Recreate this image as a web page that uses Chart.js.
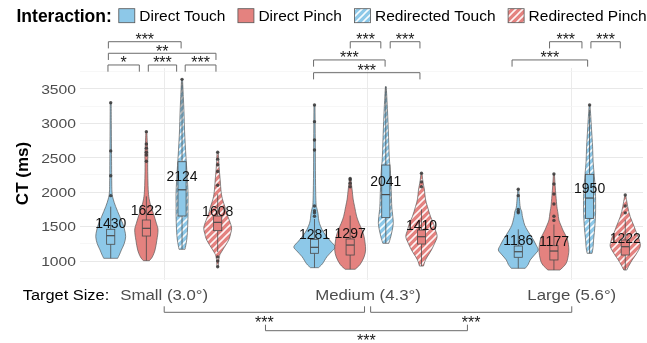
<!DOCTYPE html>
<html>
<head>
<meta charset="utf-8">
<script src="https://cdn.jsdelivr.net/npm/chart.js@4.4.1/dist/chart.umd.min.js"></script>
<style>
  html, body { margin: 0; padding: 0; background: #fff; }
  #wrap { width: 647px; height: 343px; }
</style>
</head>
<body>
<div id="wrap"><canvas id="ctChart" width="647" height="343"></canvas></div>
<script>
// --- data ---
const targetSizes = ['Small (3.0°)', 'Medium (4.3°)', 'Large (5.6°)'];
const interactions = ['Direct Touch', 'Direct Pinch', 'Redirected Touch', 'Redirected Pinch'];

// one row per target size, one column per interaction
const meanCT = [[1430, 1622, 2124, 1608], [1281, 1297, 2041, 1410], [1186, 1177, 1950, 1222]];
const q1CT = [[1243, 1363, 1654, 1441], [1112, 1087, 1630, 1247], [1054, 1015, 1620, 1087]];
const medianCT = [[1368, 1475, 2035, 1562], [1199, 1232, 1965, 1353], [1135, 1145, 1915, 1208]];
const q3CT = [[1461, 1596, 2443, 1654], [1315, 1320, 2395, 1450], [1218, 1223, 2260, 1305]];
const whiskerLowCT = [[1039, 1005, 1170, 1130], [903, 880, 1257, 927], [894, 869, 1112, 869]];
const whiskerHighCT = [[1790, 1940, 3600, 1970], [1610, 1660, 3534, 1750], [1460, 1530, 3200, 1600]];
const outlierCT = [
  [[1950, 2240, 2600, 3300], [2450, 2540, 2580, 2640, 2700, 2880], [3640], [917, 1000, 1060, 2100, 2300, 2400, 2480, 2580]],
  [[1650, 1700, 1730, 1800, 2613, 2759, 3025, 3267], [2080, 2130, 2180, 2200], [], [2080, 2150, 2275]],
  [[1700, 1720, 1750, 1950, 2042], [1590, 1650, 1828, 1974, 2119, 2264], [3267], [1700, 1800, 1959]]
];

// violin outlines: CT levels and the (relative) density at each level
const violinCT = [
  [[1039, 1100, 1160, 1250, 1353, 1450, 1548, 1650, 1790, 1900, 2000, 2200, 2600, 3000, 3300],
   [1005, 1060, 1160, 1300, 1450, 1550, 1693, 1800, 1887, 2000, 2200, 2400, 2550, 2700, 2880],
   [1170, 1305, 1450, 1650, 1790, 2000, 2275, 2500, 2700, 2904, 3150, 3388, 3640],
   [917, 1000, 1080, 1112, 1160, 1305, 1400, 1475, 1560, 1693, 1800, 1887, 2000, 2177, 2350, 2580]],
  [[903, 960, 1063, 1150, 1208, 1290, 1378, 1460, 1548, 1620, 1693, 1760, 1850, 2200, 2700, 3267],
   [880, 950, 1060, 1160, 1260, 1353, 1450, 1548, 1650, 1790, 1900, 2032, 2200],
   [1257, 1353, 1450, 1548, 1650, 1790, 2000, 2275, 2500, 2700, 2904, 3150, 3388, 3534],
   [927, 1015, 1100, 1160, 1250, 1353, 1450, 1548, 1650, 1790, 1900, 2032, 2150, 2275]],
  [[894, 950, 1015, 1100, 1160, 1230, 1305, 1380, 1450, 1520, 1596, 1660, 1717, 1780, 1900, 2042],
   [869, 940, 1015, 1160, 1305, 1380, 1450, 1520, 1596, 1700, 1790, 1950, 2100, 2264],
   [1112, 1200, 1305, 1450, 1548, 1700, 1935, 2100, 2275, 2450, 2661, 2904, 3100, 3267],
   [869, 940, 1015, 1100, 1208, 1280, 1353, 1420, 1499, 1570, 1644, 1720, 1790, 1870, 1950]]
];
const violinDensity = [
  [[7, 9, 10.7, 13.5, 15, 14, 12, 9, 5, 2.5, 1.3, 1, 0.8, 0.6, 0.5],
   [3, 6, 8.7, 10.5, 11.7, 10, 7, 4.5, 3, 2, 1.5, 1.3, 1.5, 1, 0.5],
   [3, 4.7, 5.5, 6, 6, 6, 5, 4, 3.2, 2.5, 2, 1.3, 0.5],
   [0.8, 1, 2, 3, 5, 11, 13, 14, 12.5, 9, 7, 5, 3.5, 2.5, 1.5, 0.6]],
  [[4, 8, 12.5, 18, 20.7, 16, 11, 7.5, 5, 4, 3.5, 2.5, 1.5, 1, 0.8, 0.5],
   [5, 10, 14, 15.5, 15, 14, 12, 9, 6.5, 4.5, 3, 2, 0.6],
   [3, 5, 6.5, 7.5, 7, 6, 5.5, 4.7, 3.5, 3, 2.5, 1.8, 1, 0.4],
   [2, 4, 7.5, 10, 13, 15.7, 14, 12, 9, 6, 4, 3, 1.5, 0.5]],
  [[7, 10, 12, 17, 20, 18, 15.3, 12, 9, 6.5, 5, 4, 3.5, 2, 1.2, 0.5],
   [6, 11, 13.5, 15, 13.7, 11.5, 9, 7, 5, 4, 3, 2, 1.2, 0.5],
   [2.5, 3.5, 4, 5, 5.5, 6, 6, 5.5, 4.5, 3.5, 3, 2, 1.2, 0.4],
   [1.5, 4, 7, 11, 15, 14.5, 13, 11, 9, 7, 5, 3.5, 2.5, 1.5, 0.5]]
];

// significance brackets over the violins (x in axis units, y in CT ms)
const topBrackets = [
  { x1: 0.724, x2: 0.878, y: 3849, label: '*' },
  { x1: 0.922, x2: 1.061, y: 3849, label: '***' },
  { x1: 1.103, x2: 1.254, y: 3849, label: '***' },
  { x1: 0.726, x2: 1.254, y: 4019, label: '**' },
  { x1: 0.726, x2: 1.083, y: 4187, label: '***' },
  { x1: 1.913, x2: 2.063, y: 4187, label: '***' },
  { x1: 2.109, x2: 2.255, y: 4187, label: '***' },
  { x1: 1.733, x2: 2.084, y: 3922, label: '***' },
  { x1: 1.733, x2: 2.255, y: 3737, label: '***' },
  { x1: 2.891, x2: 3.050, y: 4187, label: '***' },
  { x1: 3.094, x2: 3.238, y: 4187, label: '***' },
  { x1: 2.707, x2: 3.078, y: 3922, label: '***' }
];
// target size comparisons under the axis
const bottomBrackets = [
  { x1: 1.0, x2: 1.983, row: 0, label: '***' },
  { x1: 2.013, x2: 3.0, row: 0, label: '***' },
  { x1: 1.497, x2: 2.488, row: 1, label: '***' }
];
const yTicks = [750, 1000, 1250, 1500, 1750, 2000, 2250, 2500, 2750, 3000, 3250, 3500, 3750];

// --- look ---
const TOUCH = '#8DC8E8';
const PINCH = '#E4827F';
const DODGE = [-0.2625, -0.0875, 0.0875, 0.2625];
const DENS_UNIT = 1 / 204.5;   // density -> x axis units
const BOX_HALF = 0.02;
const FONT = '"Liberation Sans", Arial, sans-serif';

const canvas = document.getElementById('ctChart');
const ctx0 = canvas.getContext('2d');

function makeHatch(color) {
  const s = 7;
  const c = document.createElement('canvas');
  c.width = s; c.height = s;
  const g = c.getContext('2d');
  g.fillStyle = color;
  g.fillRect(0, 0, s, s);
  g.strokeStyle = 'rgba(255,255,255,0.92)';
  g.lineWidth = 1.6;
  g.beginPath();
  g.moveTo(0, s); g.lineTo(s, 0);
  g.moveTo(-2, 2); g.lineTo(2, -2);
  g.moveTo(s - 2, s + 2); g.lineTo(s + 2, s - 2);
  g.stroke();
  return ctx0.createPattern(c, 'repeat');
}
const fills = [TOUCH, PINCH, makeHatch(TOUCH), makeHatch(PINCH)];
const boxFills = [TOUCH, PINCH, TOUCH, PINCH];

function drawText(ctx, str, x, y, size, opts = {}) {
  ctx.save();
  ctx.font = (opts.bold ? 'bold ' : '') + size + 'px ' + FONT;
  ctx.fillStyle = opts.color || '#000';
  ctx.textAlign = opts.align || 'left';
  ctx.textBaseline = 'alphabetic';
  ctx.translate(x, y);
  if (opts.rotate) ctx.rotate(opts.rotate);
  ctx.scale(opts.sx || 1, 1);
  ctx.fillText(str, 0, 0);
  ctx.restore();
}

function drawStars(ctx, str, x, cy) {
  ctx.save();
  ctx.font = '16px ' + FONT;
  const m = ctx.measureText(str);
  const base = cy + (m.actualBoundingBoxAscent - m.actualBoundingBoxDescent) / 2;
  ctx.restore();
  drawText(ctx, str, x, base, 16, { align: 'center', color: '#1a1a1a' });
}

// smooth curve through pixel points (catmull-rom)
function smoothSide(ctx, pts) {
  ctx.lineTo(pts[0][0], pts[0][1]);
  for (let i = 0; i < pts.length - 1; i++) {
    const p0 = pts[i - 1] || pts[i], p1 = pts[i], p2 = pts[i + 1], p3 = pts[i + 2] || p2;
    ctx.bezierCurveTo(p1[0] + (p2[0] - p0[0]) / 6, p1[1] + (p2[1] - p0[1]) / 6,
                      p2[0] - (p3[0] - p1[0]) / 6, p2[1] - (p3[1] - p1[1]) / 6, p2[0], p2[1]);
  }
}

const violinPlugin = {
  id: 'violins',
  beforeDatasetsDraw(chart) {
    const { ctx, scales: { x, y } } = chart;
    targetSizes.forEach((t, g) => {
      interactions.forEach((name, i) => {
        const cx = g + 1 + DODGE[i];
        const lv = violinCT[g][i], dn = violinDensity[g][i];
        const right = lv.map((v, k) => [x.getPixelForValue(cx + dn[k] * DENS_UNIT), y.getPixelForValue(v)]);
        const left = lv.map((v, k) => [x.getPixelForValue(cx - dn[k] * DENS_UNIT), y.getPixelForValue(v)]).reverse();
        ctx.save();
        ctx.beginPath();
        ctx.moveTo(left[left.length - 1][0], left[left.length - 1][1]);
        smoothSide(ctx, right);
        smoothSide(ctx, left);
        ctx.closePath();
        ctx.fillStyle = fills[i];
        ctx.fill();
        ctx.strokeStyle = '#5a5a5a';
        ctx.lineWidth = 0.7;
        ctx.stroke();

        // box plot
        const xl = x.getPixelForValue(cx - BOX_HALF), xr = x.getPixelForValue(cx + BOX_HALF);
        const xc = x.getPixelForValue(cx);
        const yq1 = y.getPixelForValue(q1CT[g][i]), yq3 = y.getPixelForValue(q3CT[g][i]);
        ctx.strokeStyle = '#4a4a4a';
        ctx.lineWidth = 0.8;
        ctx.beginPath();
        ctx.moveTo(xc, y.getPixelForValue(whiskerHighCT[g][i])); ctx.lineTo(xc, yq3);
        ctx.moveTo(xc, yq1); ctx.lineTo(xc, y.getPixelForValue(whiskerLowCT[g][i]));
        ctx.stroke();
        ctx.fillStyle = boxFills[i];
        ctx.fillRect(xl, yq3, xr - xl, yq1 - yq3);
        ctx.strokeRect(xl, yq3, xr - xl, yq1 - yq3);
        const ym = y.getPixelForValue(medianCT[g][i]);
        ctx.lineWidth = 1.2;
        ctx.beginPath();
        ctx.moveTo(xl, ym); ctx.lineTo(xr, ym);
        ctx.stroke();
        ctx.restore();
      });
    });
  },
  afterDatasetsDraw(chart) {
    const { ctx, scales: { x, y } } = chart;
    targetSizes.forEach((t, g) => {
      interactions.forEach((name, i) => {
        const px = x.getPixelForValue(g + 1 + DODGE[i]);
        drawText(ctx, String(meanCT[g][i]), px, y.getPixelForValue(meanCT[g][i]) - 3, 14, { align: 'center', color: '#111' });
      });
    });
  },
  afterDraw(chart) {
    const { ctx, chartArea, scales: { x, y } } = chart;

    // y tick labels + title
    yTicks.filter(v => v % 500 === 0).forEach(v => {
      drawText(ctx, String(v), 76, y.getPixelForValue(v) + 4.8, 13.5, { align: 'right', color: '#4d4d4d', sx: 1.16 });
    });
    drawText(ctx, 'CT (ms)', 28, 173.5, 17, { bold: true, align: 'center', rotate: -Math.PI / 2 });

    // x labels
    targetSizes.forEach((t, g) => {
      drawText(ctx, t, x.getPixelForValue(g + 1), chartArea.bottom + 19.5, 14, { align: 'center', color: '#4d4d4d', sx: 1.2 });
    });
    drawText(ctx, 'Target Size:', 22.7, chartArea.bottom + 19.5, 14, { sx: 1.17 });

    // brackets
    ctx.save();
    ctx.strokeStyle = '#6b6b6b';
    ctx.lineWidth = 1;
    topBrackets.forEach(b => {
      const x1 = x.getPixelForValue(b.x1), x2 = x.getPixelForValue(b.x2), yy = y.getPixelForValue(b.y);
      ctx.beginPath();
      ctx.moveTo(x1, yy + 6.7); ctx.lineTo(x1, yy); ctx.lineTo(x2, yy); ctx.lineTo(x2, yy + 6.7);
      ctx.stroke();
      drawStars(ctx, b.label, (x1 + x2) / 2, yy - 5.5);
    });
    const rowY = [chartArea.bottom + 32.3, chartArea.bottom + 50.7];
    bottomBrackets.forEach(b => {
      const x1 = x.getPixelForValue(b.x1), x2 = x.getPixelForValue(b.x2), yy = rowY[b.row];
      ctx.beginPath();
      ctx.moveTo(x1, yy - 6); ctx.lineTo(x1, yy); ctx.lineTo(x2, yy); ctx.lineTo(x2, yy - 6);
      ctx.stroke();
      drawStars(ctx, b.label, (x1 + x2) / 2, yy + 6.3);
    });
    ctx.restore();

    // legend
    ctx.save();
    let lx = 16.5;
    drawText(ctx, 'Interaction:', lx, 21.6, 17.5, { bold: true });
    ctx.font = 'bold 17.5px ' + FONT;
    lx += ctx.measureText('Interaction:').width + 7;
    interactions.forEach((name, i) => {
      ctx.fillStyle = fills[i];
      ctx.fillRect(lx, 8.7, 16, 14);
      ctx.strokeStyle = '#555';
      ctx.lineWidth = 0.8;
      ctx.strokeRect(lx, 8.7, 16, 14);
      lx += 20.5;
      drawText(ctx, name, lx, 21.3, 15.5);
      ctx.font = '15.5px ' + FONT;
      lx += ctx.measureText(name).width + 12.5;
    });
    ctx.restore();
  }
};

// outlier points as a scatter dataset
const outlierPoints = [];
targetSizes.forEach((t, g) => {
  interactions.forEach((name, i) => {
    outlierCT[g][i].forEach(v => outlierPoints.push({ x: g + 1 + DODGE[i], y: v }));
  });
});

new Chart(canvas, {
  type: 'scatter',
  data: {
    datasets: [{
      label: 'outliers',
      data: outlierPoints,
      pointRadius: 1.7,
      pointBackgroundColor: 'rgba(55,55,55,0.85)',
      pointBorderWidth: 0
    }]
  },
  options: {
    responsive: false,
    animation: false,
    events: [],
    layout: { padding: { top: 68, right: 2, left: 0, bottom: 0 } },
    plugins: { legend: { display: false }, tooltip: { enabled: false } },
    scales: {
      x: {
        type: 'linear',
        min: 0.5868,
        max: 3.3496,
        afterBuildTicks: s => { s.ticks = [1, 2, 3].map(v => ({ value: v })); },
        afterFit: s => { s.height = 63; },
        ticks: { display: false },
        grid: { color: '#ebebeb', lineWidth: 1, drawTicks: false },
        border: { display: false }
      },
      y: {
        min: 724,
        max: 3805,
        afterBuildTicks: s => { s.ticks = yTicks.map(v => ({ value: v })); },
        afterFit: s => { s.width = 80; },
        ticks: { display: false },
        grid: {
          color: c => (c.tick && c.tick.value % 500 === 0 ? '#e8e8e8' : '#f3f3f3'),
          lineWidth: c => (c.tick && c.tick.value % 500 === 0 ? 1 : 0.7),
          drawTicks: false
        },
        border: { display: false }
      }
    }
  },
  plugins: [violinPlugin]
});
</script>
</body>
</html>
